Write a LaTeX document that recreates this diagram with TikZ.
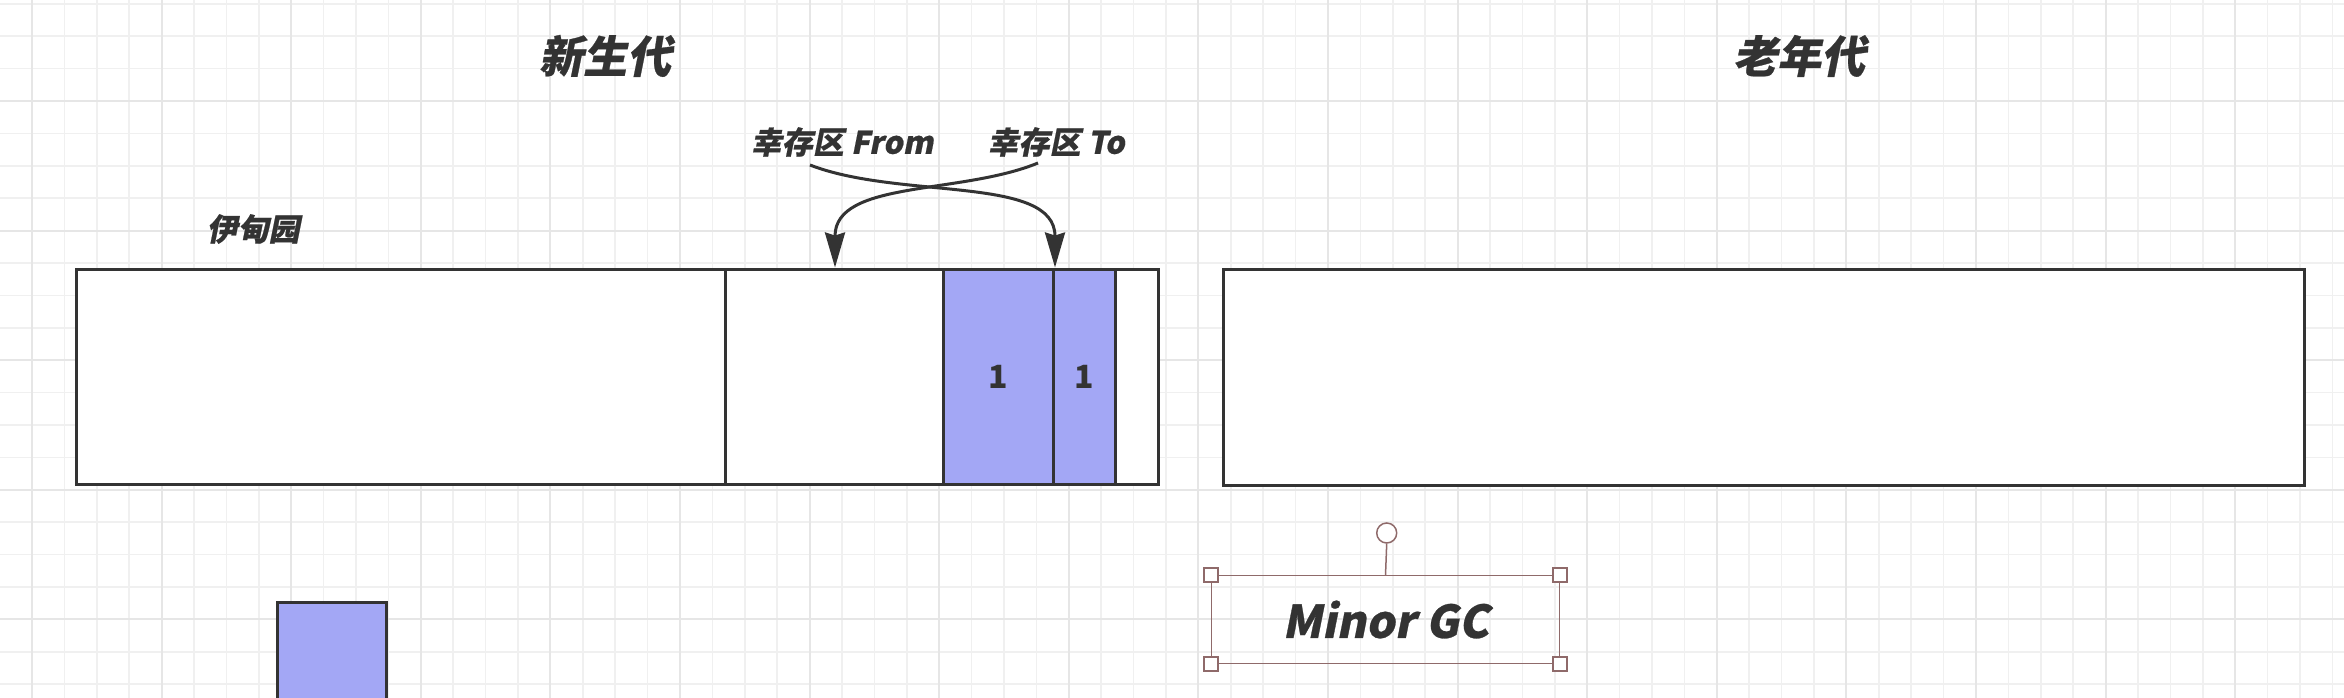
\documentclass[tikz,border=0pt]{standalone}
\usepackage{fontspec}
\usetikzlibrary{arrows.meta}
\newfontfamily\cjkit{Noto Sans CJK SC}[FakeSlant=0.2,FakeBold=0.6]
\newfontfamily\cjkup{Noto Sans CJK SC}
\definecolor{ink}{HTML}{333333}
\definecolor{blu}{HTML}{A3A7F5}
\definecolor{gridminor}{HTML}{F0F0F0}
\definecolor{gridmajor}{HTML}{E6E6E6}
\definecolor{sel}{HTML}{8F6A6A}
\tikzset{
  box/.style={draw=ink, line width=3pt, fill=white, inner sep=0pt, outer sep=0pt},
  bluebox/.style={box, fill=blu, text=ink, font=\cjkup\bfseries\fontsize{32}{36}\selectfont},
  title/.style={text=ink, font=\cjkit\bfseries\fontsize{44}{50}\selectfont, inner sep=0pt},
  lbl/.style={text=ink, font=\cjkit\bfseries\fontsize{31}{36}\selectfont, inner sep=0pt},
  arr/.style={draw=ink, line width=3pt, -{Stealth[length=35pt,width=20pt,inset=3pt]}},
  gminor/.style={draw=gridminor, line width=1.6pt},
  gmajor/.style={draw=gridmajor, line width=2pt},
  handle/.style={draw=sel, fill=white, line width=1.5pt, minimum size=14pt, inner sep=0pt, outer sep=0pt},
}
\begin{document}
\begin{tikzpicture}[x=1pt,y=-1pt]
\useasboundingbox (0,0) rectangle (2344,698);
\clip (0,0) rectangle (2344,698);
\fill[white] (0,0) rectangle (2344,698);
% grid
\foreach \i in {0,...,73} \draw[gminor] ({-0.4+32.4*\i},0) -- ({-0.4+32.4*\i},698);
\foreach \i in {0,...,21} \draw[gminor] (0,{3.8+32.4*\i}) -- (2344,{3.8+32.4*\i});
\foreach \i in {0,...,18} \draw[gmajor] ({32+129.6*\i},0) -- ({32+129.6*\i},698);
\foreach \i in {0,...,5} \draw[gmajor] (0,{101+129.6*\i}) -- (2344,{101+129.6*\i});

% titles
\node[title] (young-t) at (605,56) {新生代};
\node[title] (old-t) at (1799,56) {老年代};
\node[lbl] (from) at (842,142) {幸存区 From};
\node[lbl] (to) at (1056,142) {幸存区 To};
\node[lbl] (eden) at (253,229) {伊甸园};

% young generation
\node[box, minimum width=1082pt, minimum height=215pt] (young) at (617.5,376.5) {};
\draw[ink, line width=3pt] (725.5,269) -- (725.5,484);
\node[bluebox, minimum width=109.5pt, minimum height=215pt] (b1) at (998.25,376.5) {1};
\node[bluebox, minimum width=62.5pt, minimum height=215pt] (b2) at (1084.25,376.5) {1};

% old generation
\node[box, minimum width=1081pt, minimum height=216pt] (old) at (1763.5,377) {};

% object below
\node[bluebox, minimum width=109pt, minimum height=148pt] (obj) at (332.2,676) {};

% arrows
\coordinate (fs) at (810,165);
\coordinate (ts) at (1038,163);
\coordinate (ft) at (835,267.5);
\coordinate (tt) at (1055,267.5);
\draw[arr] (fs) .. controls (900,200) and (1055,175) .. (tt);
\draw[arr] (ts) .. controls (960,195) and (835,180) .. (ft);

% Minor GC selected text box
\node[draw=sel, line width=1.2pt, minimum width=347.6pt, minimum height=87.6pt, inner sep=0pt,
      text=ink, font=\cjkit\bfseries\fontsize{45}{50}\selectfont] (gc) at (1385.5,619.5) {Minor GC};
\node[handle] (c1) at (gc.north west) {};
\node[handle] (c2) at (gc.north east) {};
\node[handle] (c3) at (gc.south west) {};
\node[handle] (c4) at (gc.south east) {};
\node[draw=sel, fill=white, line width=1.5pt, circle, minimum size=20pt, inner sep=0pt] (hd) at (1386.7,533) {};
\draw[sel, line width=1.5pt] (hd.south) -- (gc.north);
\end{tikzpicture}
\end{document}
